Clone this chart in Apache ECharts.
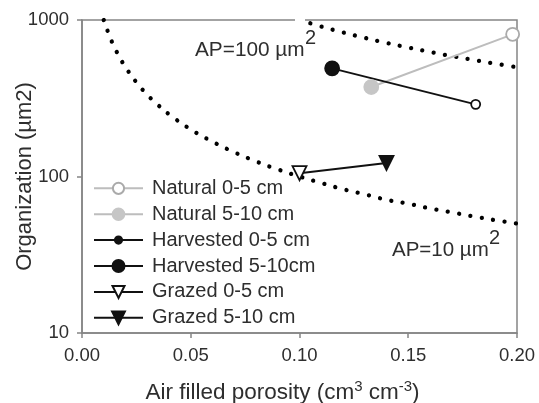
<!DOCTYPE html>
<html><head><meta charset="utf-8">
<script src="https://cdn.jsdelivr.net/npm/echarts@6/dist/echarts.min.js"></script>
<style>html,body{margin:0;padding:0;background:#fff}#c{width:539px;height:403px}</style>
</head><body><div id="c"></div>
<script>
// ---- data ----
const seriesNames = ['Natural 0-5 cm','Natural 5-10 cm','Harvested 0-5 cm','Harvested 5-10cm','Grazed 0-5 cm','Grazed 5-10 cm'];
const porosity     = [0.198, 0.133, 0.181, 0.115, 0.100, 0.140];
const organization = [810,   373,   289,   491,   105,   122];
// connector pairs (indices into the arrays above)
const connectors = [[1,0],[3,2],[4,5]];
// reference curves (AP = 10 and 100 µm²)
const ap10x = [0.010,0.0125,0.015,0.0175,0.020,0.025,0.030,0.035,0.040,0.050,0.060,0.070,0.080,0.090,0.100,0.110,0.120,0.130,0.140,0.150,0.160,0.170,0.180,0.190,0.200];
const ap10y = [1000,800,667,571,500,400,333,286,250,200,167,143,125,111,100,91,83,77,71,67,62.5,59,55.6,52.6,50];
const ap100x = [0.100,0.110,0.120,0.130,0.140,0.150,0.160,0.170,0.180,0.190,0.200];
const ap100y = [1000,909,833,769,714,667,625,588,556,526,500];
const xTicks = [0, 0.05, 0.10, 0.15, 0.20];
const yTicks = [10, 100, 1000];
const apLabels = ['AP=100 \u00b5m', 'AP=10 \u00b5m'];

const gray = '#bdbdbd';
const styles = [
  {symbol:'circle', size:13, color:'#fff', border:'#aaaaaa', line:gray, lh:14},
  {symbol:'circle', size:14, color:'#c6c6c6', border:'#c6c6c6', line:gray, lh:14.5},
  {symbol:'circle', size:9,  color:'#fff', border:'#111', line:'#111', legendColor:'#111', lh:9},
  {symbol:'circle', size:14, color:'#111', border:'#111', line:'#111', lh:15},
  {symbol:'triangle', size:14, color:'#fff', border:'#111', line:'#111', rot:180, lh:15},
  {symbol:'triangle', size:14, color:'#111', border:'#111', line:'#111', rot:180, lh:16}
];

const series = [];
const dotStyle = {color:'#000', width:4.3, type:[0.01, 11.5], cap:'round'};
series.push({type:'line', name:'ap10', data: ap10x.map((x,i)=>[x, ap10y[i]]), smooth:true, showSymbol:false, lineStyle:dotStyle, silent:true, z:1});
series.push({type:'line', name:'ap100', data: ap100x.map((x,i)=>[x, ap100y[i]]), smooth:true, showSymbol:false, lineStyle:dotStyle, silent:true, z:1});
connectors.forEach(([a,b])=>{
  series.push({type:'line', name:'conn'+a, data:[[porosity[a],organization[a]],[porosity[b],organization[b]]],
    showSymbol:false, lineStyle:{color:styles[a].line, width:2}, silent:true, z:2});
});
seriesNames.forEach((n,i)=>{
  const s = styles[i];
  series.push({type:'line', name:n, data:[[porosity[i],organization[i]]],
    symbol:s.symbol, symbolSize:s.size, symbolRotate:s.rot||0, showSymbol:true,
    itemStyle:{color:s.color, borderColor:s.border, borderWidth:1.8, opacity:1},
    lineStyle:{color:s.line, width:2.5}, z:3});
});

const txtColor = '#2e2e2e';
const ff = 'Liberation Sans, Arial, sans-serif';
const txt = {color:txtColor, fontFamily:ff};
const legends = seriesNames.map((n,i)=>({
  data:[{name:n, itemStyle: styles[i].legendColor ? {color:styles[i].legendColor} : undefined}],
  orient:'vertical', left:93, top: 188.3 + 25.9*i - 11, itemWidth:49, itemHeight:styles[i].lh,
  padding:0,
  textStyle:{color:txtColor, fontFamily:ff, fontSize:20, lineHeight:22, padding:[0,0,0,4]}
}));

const chart = echarts.init(document.getElementById('c'));
chart.setOption({
  animation:false,
  backgroundColor:'#fff',
  grid:{left:82, right:22, top:20, bottom:70, show:true, borderColor:'#858585', borderWidth:1.5, containLabel:false, outerBoundsMode:'none'},
  legend: legends,
  xAxis:{type:'value', min:0, max:0.2, interval:0.05,
    axisLine:{show:true, lineStyle:{color:'#858585', width:1.5}},
    axisTick:{show:true, length:5, lineStyle:{color:'#858585', width:1.5}},
    splitLine:{show:false},
    axisLabel:Object.assign({fontSize:18.5, margin:13.5, formatter:v=>v.toFixed(2)}, txt),
    name:'Air filled porosity (cm{sup|3} cm{sup|-3})', nameLocation:'middle', nameGap:46, nameMoveOverlap:false,
    nameTextStyle:Object.assign({fontSize:22.5, padding:[0,34,0,0], rich:{sup:Object.assign({fontSize:15, padding:[0,0,12,0]}, txt)}}, txt)
  },
  yAxis:{type:'log', logBase:10, min:10, max:1000,
    axisLine:{show:true, lineStyle:{color:'#858585', width:1.5}},
    axisTick:{show:true, length:5, lineStyle:{color:'#858585', width:1.5}},
    minorTick:{show:false}, splitLine:{show:false},
    axisLabel:Object.assign({fontSize:18.5, margin:13, formatter:v=>String(Math.round(v))}, txt),
    name:'Organization (\u00b5m2)', nameLocation:'middle', nameGap:46, nameMoveOverlap:false,
    nameTextStyle:Object.assign({fontSize:22}, txt)
  },
  graphic:[
    {type:'rect', shape:{x:295, y:17, width:10, height:6}, style:{fill:'#fff'}, z:100},
    {type:'text', x:195, y:50, z:100, style:{text:apLabels[0], font:'20.8px '+ff, fill:txtColor, verticalAlign:'middle'}},
    {type:'text', x:305, y:38, z:100, style:{text:'2', font:'20px '+ff, fill:txtColor, verticalAlign:'middle'}},
    {type:'text', x:392, y:250, z:100, style:{text:apLabels[1], font:'20.5px '+ff, fill:txtColor, verticalAlign:'middle'}},
    {type:'text', x:489, y:238, z:100, style:{text:'2', font:'20px '+ff, fill:txtColor, verticalAlign:'middle'}}
  ],
  series: series
});
</script></body></html>
